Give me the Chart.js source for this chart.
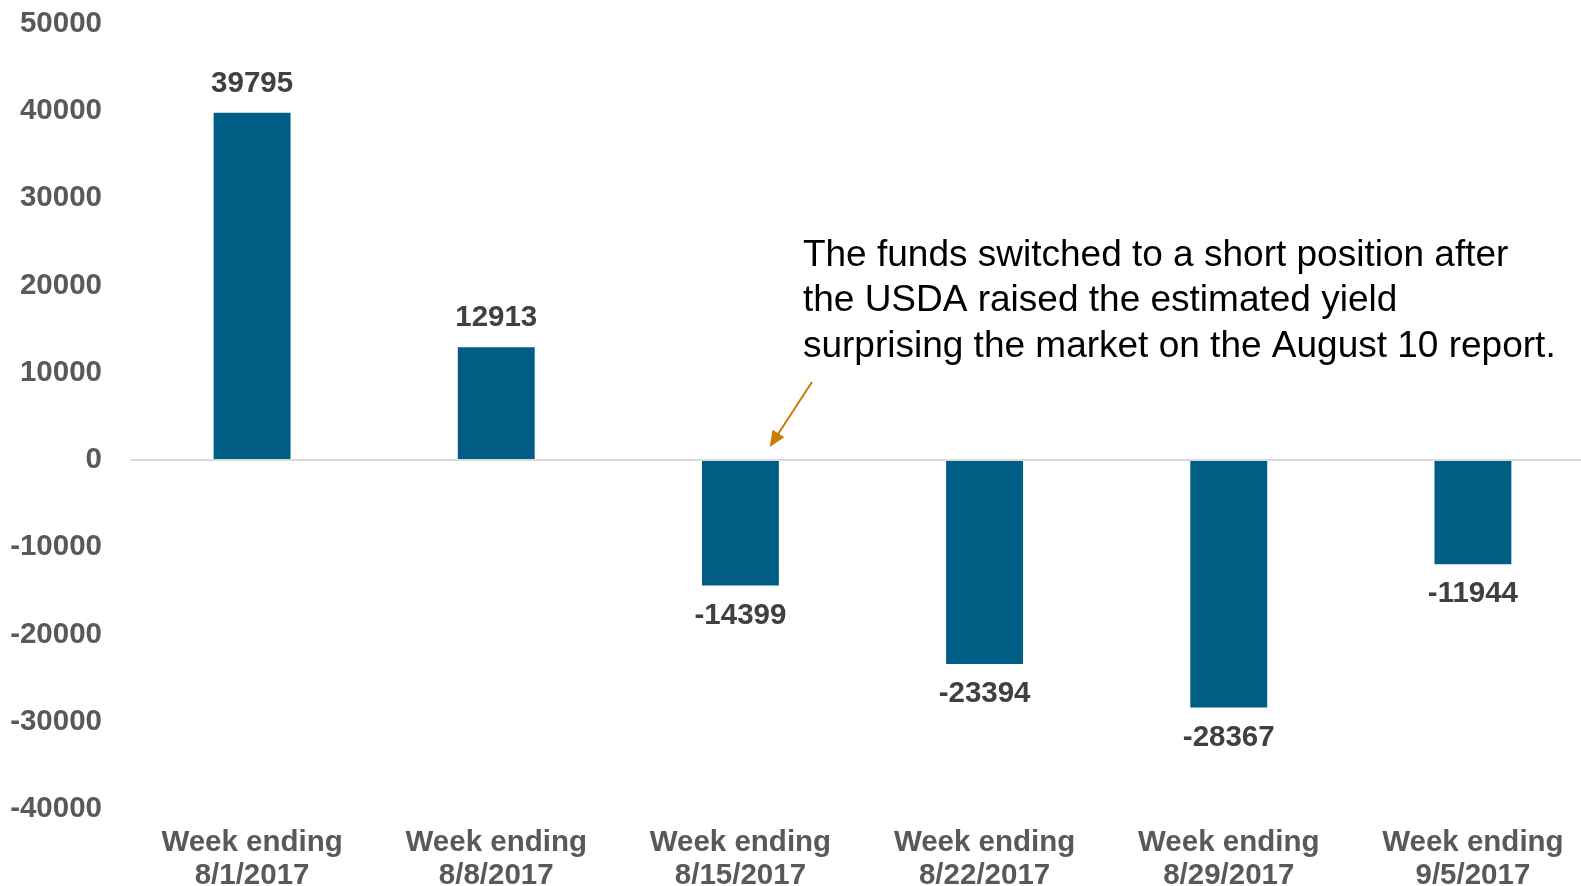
<!DOCTYPE html>
<html>
<head>
<meta charset="utf-8">
<script src="https://cdn.jsdelivr.net/npm/chart.js"></script>
<style>
  *{margin:0;padding:0;box-sizing:border-box}
  body{background:#fff;width:1581px;height:886px;overflow:hidden}
  .wrap{position:relative;width:1595px;height:910px;margin-top:-22px}
</style>
</head>
<body>
<div class="wrap"><canvas id="c"></canvas></div>
<script>
const weeks = [
  ["Week ending", "8/1/2017"], ["Week ending", "8/8/2017"], ["Week ending", "8/15/2017"],
  ["Week ending", "8/22/2017"], ["Week ending", "8/29/2017"], ["Week ending", "9/5/2017"],
];
const netPositions = [39795, 12913, -14399, -23394, -28367, -11944];
const yMin = -40000, yMax = 50000, yStep = 10000;
const noteLines = [
  "The funds switched to a short position after",
  "the USDA raised the estimated yield",
  "surprising the market on the August 10 report.",
];

const FONT = "Arial, 'Liberation Sans', sans-serif";

// value labels above / below each bar
const barLabels = {
  id: "barLabels",
  afterDatasetsDraw(chart) {
    const { ctx } = chart;
    const meta = chart.getDatasetMeta(0);
    ctx.save();
    ctx.font = `bold 29.5px ${FONT}`;
    ctx.fillStyle = "#404040";
    ctx.textAlign = "center";
    ctx.textBaseline = "middle";
    meta.data.forEach((bar, i) => {
      const v = netPositions[i];
      const y = v >= 0 ? bar.y - 29 : bar.y + 30;
      ctx.fillText(String(v), bar.x, y);
    });
    ctx.restore();
  }
};

// annotation text + arrow, placed in data space
const note = {
  id: "note",
  afterDraw(chart) {
    const { ctx, scales: { x, y } } = chart;
    ctx.save();
    const tx = x.getPixelForValue(2.256);
    ctx.font = `37px ${FONT}`;
    ctx.fillStyle = "#000";
    ctx.textAlign = "left";
    ctx.textBaseline = "middle";
    noteLines.forEach((l, i) => ctx.fillText(l, tx, y.getPixelForValue(23400) + i * 45.4));

    const x0 = x.getPixelForValue(2.293), y0 = y.getPixelForValue(8940);
    const x1 = x.getPixelForValue(2.12), y1 = y.getPixelForValue(1500);
    const ang = Math.atan2(y1 - y0, x1 - x0);
    ctx.strokeStyle = "#CC7A00";
    ctx.fillStyle = "#CC7A00";
    ctx.lineWidth = 2;
    ctx.beginPath();
    ctx.moveTo(x0, y0);
    ctx.lineTo(x1 - 10 * Math.cos(ang), y1 - 10 * Math.sin(ang));
    ctx.stroke();
    ctx.beginPath();
    ctx.moveTo(x1, y1);
    ctx.lineTo(x1 - 16 * Math.cos(ang) + 7 * Math.sin(ang), y1 - 16 * Math.sin(ang) - 7 * Math.cos(ang));
    ctx.lineTo(x1 - 16 * Math.cos(ang) - 7 * Math.sin(ang), y1 - 16 * Math.sin(ang) + 7 * Math.cos(ang));
    ctx.closePath();
    ctx.fill();
    ctx.restore();
  }
};

new Chart(document.getElementById("c"), {
  type: "bar",
  data: {
    labels: weeks,
    datasets: [{
      data: netPositions,
      backgroundColor: "#005E85",
      barPercentage: 0.63,
      categoryPercentage: 0.5,
    }]
  },
  options: {
    responsive: true,
    maintainAspectRatio: false,
    animation: false,
    layout: { padding: 0 },
    plugins: { legend: { display: false }, tooltip: { enabled: false } },
    scales: {
      x: {
        grid: { display: false, drawTicks: false },
        border: { display: false },
        ticks: { color: "#595959", font: { family: FONT, size: 29.5, weight: "bold", lineHeight: 1.095 }, padding: 18, maxRotation: 0, autoSkip: false },
        afterFit(s) { s.height = 79; }
      },
      y: {
        min: yMin, max: yMax,
        border: { display: false },
        grid: {
          drawTicks: false,
          color: c => c.tick.value === 0 ? "#D9D9D9" : "transparent",
          lineWidth: 2,
        },
        ticks: { stepSize: yStep, color: "#595959", font: { family: FONT, size: 29.5, weight: "bold" }, padding: 28, callback: v => String(v) },
        afterFit(s) { s.width = 130; }
      }
    }
  },
  plugins: [barLabels, note]
});
</script>
</body>
</html>
